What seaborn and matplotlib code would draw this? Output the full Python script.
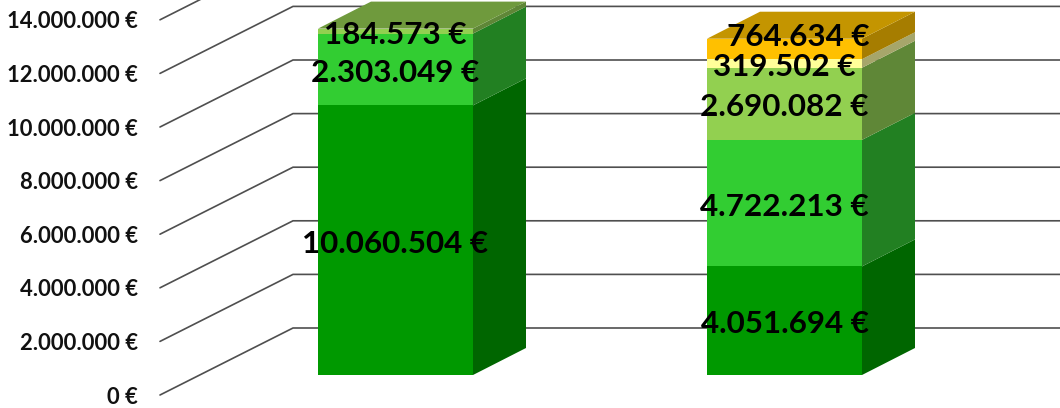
import matplotlib
matplotlib.use("Agg")
import matplotlib.pyplot as plt
import numpy as np
import seaborn as sns

sites = ["A", "B"]

# heights as they appear in the picture
dark_values = [10060504, 4051694]
green_values = [2680000, 4722213]  # left bar is drawn taller than its label says
pale_values = [184573, 2690082]
yellow_values = [0, 319502]
gold_values = [0, 764634]

# numbers printed on the bars
dark_labels = [10060504, 4051694]
green_labels = [2303049, 4722213]
pale_labels = [184573, 2690082]
yellow_labels = [0, 319502]
gold_labels = [0, 764634]

axis_ticks = [0, 2000000, 4000000, 6000000, 8000000, 10000000, 12000000, 14000000]

front_colors = ["#009900", "#32CD32", "#92D050", "#FFFF99", "#FFC000"]
side_colors = ["#006600", "#228022", "#5F8737", "#A6A66B", "#A67D00"]
top_colors = ["#006600", "#228022", "#6F9A3D", "#A6A66B", "#C49500"]

# pixel layout of the fake 3d chart
W, H = 1060, 408
PX_PER_EUR = 26.8e-6
PX_PER_CAT = 389.0
X0, Y0 = 395.5, 375.0


def money(v):
    return f"{v:,}".replace(",", ".") + " €"


sns.set_theme(style="white")
plt.rcParams["font.family"] = ["Lato", "DejaVu Sans"]

fig = plt.figure(figsize=(W / 100, H / 100), dpi=100)
ax = fig.add_axes([0, 0, 1, 1])

heights = np.array([dark_values, green_values, pale_values, yellow_values, gold_values], dtype=float)
labels = [dark_labels, green_labels, pale_labels, yellow_labels, gold_labels]
tops = heights.cumsum(axis=0)
bottoms = tops - heights

bar_w = 155 / PX_PER_CAT
dx = 53 / PX_PER_CAT
dy = 27 / PX_PER_EUR


def cat_x(px):
    return (px - X0) / PX_PER_CAT


def val_y(px):
    return (Y0 - px) / PX_PER_EUR


# floor lines and back wall
back_shift = 47 / PX_PER_EUR
front_shift = -20 / PX_PER_EUR
tick_nudge = -2 / PX_PER_EUR
label_nudge = -3.5 / PX_PER_EUR
for t in axis_ticks:
    ax.plot([cat_x(160), cat_x(293), cat_x(W)],
            [t + front_shift, t + back_shift, t + back_shift],
            color="#4F4F4F", lw=1.2, zorder=1, solid_joinstyle="miter")
    ax.text(cat_x(138), t + front_shift + tick_nudge, money(t), ha="right", va="center",
            fontsize=15.8, fontweight="bold", color="#111111")

# side and top faces come from the same stack
for b in range(len(sites)):
    right = b + bar_w / 2
    left = b - bar_w / 2
    for j in range(len(heights)):
        if heights[j, b] == 0:
            continue
        ax.fill([right, right + dx, right + dx, right],
                [bottoms[j, b], bottoms[j, b] + dy, tops[j, b] + dy, tops[j, b]],
                color=side_colors[j], lw=0, zorder=2)
    last = np.nonzero(heights[:, b])[0][-1]
    ax.fill([left, left + dx, right + dx, right],
            [tops[last, b], tops[last, b] + dy, tops[last, b] + dy, tops[last, b]],
            color=top_colors[last], lw=0, zorder=2)

# tallest first so that the lower layers paint over it
for j in reversed(range(len(heights))):
    sns.barplot(x=sites, y=tops[j], color=front_colors[j], saturation=1,
                width=bar_w, order=sites, linewidth=0, zorder=3, ax=ax)

for j in range(len(heights)):
    for b in range(len(sites)):
        if heights[j, b] == 0:
            continue
        x = b
        y = bottoms[j, b] + heights[j, b] / 2
        if j == 4:  # this one was dragged up by hand in the original
            x = cat_x(798)
            y = val_y(33)
        ax.text(x, y + label_nudge, money(labels[j][b]), ha="center", va="center",
                fontsize=22.6, fontweight="bold", color="black", zorder=4)

ax.set_xlim(cat_x(0), cat_x(W))
ax.set_ylim(val_y(H), val_y(0))
ax.axis("off")

fig.savefig("out.png", dpi=100)
